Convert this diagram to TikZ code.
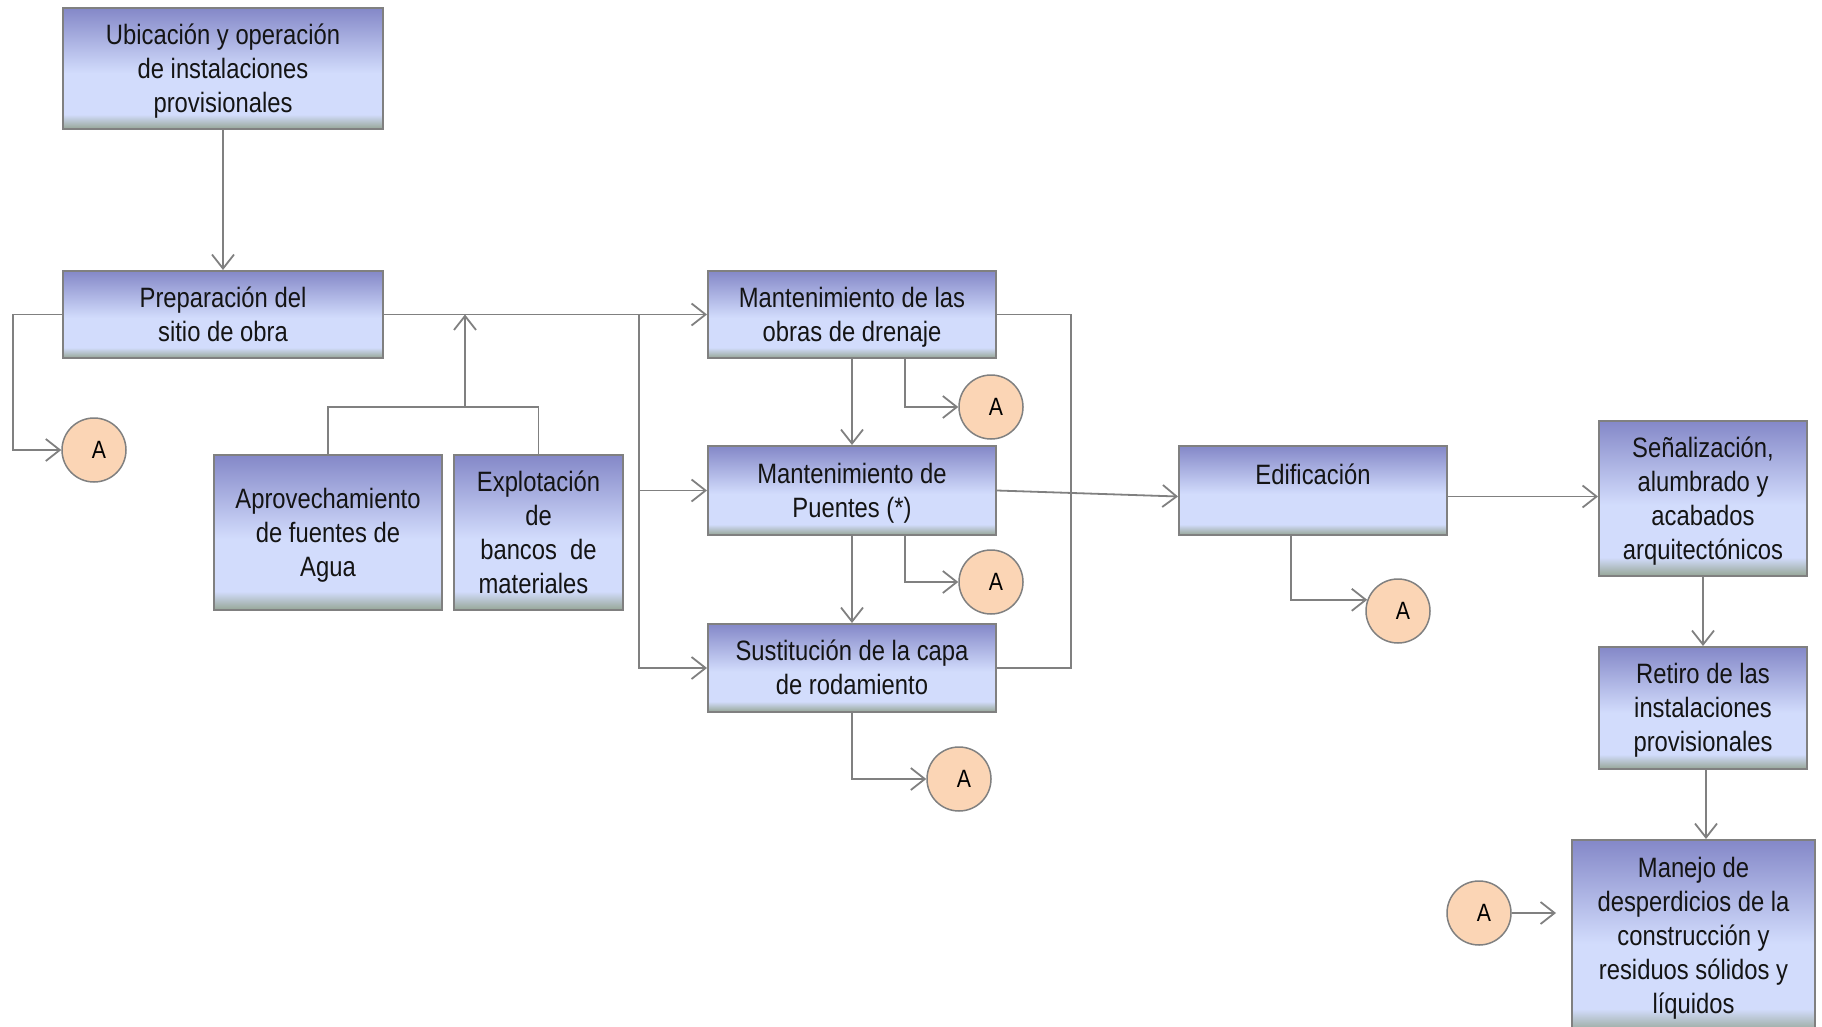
\documentclass[tikz,border=0pt]{standalone}
\usepackage{fontspec}
\setmainfont{Liberation Sans}[FakeStretch=0.85]
\usetikzlibrary{arrows.meta}
\definecolor{bxtop}{RGB}{132,136,200}
\definecolor{bxlight}{RGB}{210,220,252}
\definecolor{bxbot}{RGB}{150,166,150}
\definecolor{lncol}{RGB}{128,128,128}
\definecolor{peach}{RGB}{251,213,181}
\pgfdeclareverticalshading{boxshade}{100bp}{color(0bp)=(bxbot); color(25bp)=(bxbot); color(31bp)=(bxlight); color(48bp)=(bxlight); color(75bp)=(bxtop); color(100bp)=(bxtop)}
\newcommand\bt[1]{\raisebox{-3pt}[\height][\depth]{\begin{tabular}{@{}c@{}}#1\end{tabular}}}
\begin{document}
\begin{tikzpicture}[x=1pt,y=-1pt,
  box/.style={draw=lncol, line width=2pt, shade, shading=boxshade,
    font=\fontsize{28}{34}\selectfont, inner sep=0pt, text=black!92},
  circ/.style={circle, draw=lncol, line width=1.5pt, fill=peach, minimum size=64pt,
    inner sep=0pt, font=\fontsize{25}{28}\selectfont},
  ln/.style={draw=lncol, line width=1.8pt},
  arr/.style={ln, -{Straight Barb[length=14pt,width=22pt]}}]
\useasboundingbox (0,0) rectangle (1822,1027);
\fill[white] (0,0) rectangle (1822,1027);
\clip (0,0) rectangle (1822,1027);

% boxes
\node[box, minimum width=320pt, minimum height=121pt] (ubi) at (223,68.5) {\bt{Ubicación y operación\\de instalaciones\\provisionales}};
\node[box, minimum width=320pt, minimum height=87pt] (prep) at (223,314.5) {\bt{Preparación del\\sitio de obra}};
\node[box, minimum width=228pt, minimum height=155pt] (aprov) at (328,532.5) {\bt{Aprovechamiento\\de fuentes de\\Agua}};
\node[box, minimum width=169pt, minimum height=155pt] (explot) at (538.5,532.5) {\bt{Explotación\\de\\bancos\ \ de\\materiales\hspace*{10pt}}};
\node[box, minimum width=288pt, minimum height=87pt] (dren) at (852,314.5) {\bt{Mantenimiento de las\\obras de drenaje}};
\node[box, minimum width=288pt, minimum height=89pt] (puen) at (852,490.5) {\bt{Mantenimiento de\\Puentes (*)}};
\node[box, minimum width=288pt, minimum height=88pt] (sust) at (852,668) {\bt{Sustitución de la capa\\de rodamiento}};
\node[box, minimum width=268pt, minimum height=89pt] (edif) at (1313,490.5) {\bt{Edificación\\[-2pt]\mbox{}}};
\node[box, minimum width=208pt, minimum height=155pt] (senal) at (1703,498.5) {\bt{Señalización,\\alumbrado y\\acabados\\arquitectónicos}};
\node[box, minimum width=208pt, minimum height=122pt] (retiro) at (1703,708) {\bt{Retiro de las\\instalaciones\\provisionales}};
\node[box, minimum width=243pt, minimum height=192pt] (man) at (1693.5,936) {\bt{Manejo de\\desperdicios de la\\construcción y\\residuos sólidos y\\líquidos}};

% circles
\node[circ] (a0) at (94,450) {\kern10pt A};
\node[circ] (a1) at (991,407) {\kern10pt A};
\node[circ] (a2) at (991,582) {\kern10pt A};
\node[circ] (a3) at (959,779) {\kern10pt A};
\node[circ] (a4) at (1398,611) {\kern10pt A};
\node[circ] (a5) at (1479,913) {\kern10pt A};

% connectors
\draw[arr] (ubi.south) -- (prep.north);
\draw[arr] (prep.west) -- ++(-49,0) |- (a0.west);
\coordinate (jn) at (465,407);
\draw[ln] (aprov.north) |- (jn) -| (explot.north);
\draw[arr] (jn) -- (jn |- prep.east);
\draw[arr] (prep.east) -- (dren.west);
\coordinate (bus) at (639,314.5);
\draw[arr] (bus) |- (puen.west);
\draw[arr] (bus) |- (sust.west);
\draw[arr] (dren.south) -- (puen.north);
\draw[arr] (puen.south) -- (sust.north);
\draw[ln] (dren.east) -- ++(74,0) |- (sust.east);
\draw[arr] ([xshift=53pt]dren.south) |- (a1.west);
\draw[arr] ([xshift=53pt]puen.south) |- (a2.west);
\draw[arr] (sust.south) |- (a3.west);
\draw[arr] (puen.east) -- ([yshift=-6pt]edif.west);
\draw[arr] ([yshift=-6pt]edif.east) -- ([yshift=-6pt]edif.east -| senal.west);
\draw[arr] ([xshift=-22pt]edif.south) |- (a4.160);
\draw[arr] (senal.south) -- (retiro.north);
\draw[arr] ([xshift=3pt]retiro.south) -- ([xshift=3pt]retiro.south |- man.north);
\draw[arr] (a5.east) -- ([xshift=-15pt]man.west |- a5.east);
\end{tikzpicture}
\end{document}
